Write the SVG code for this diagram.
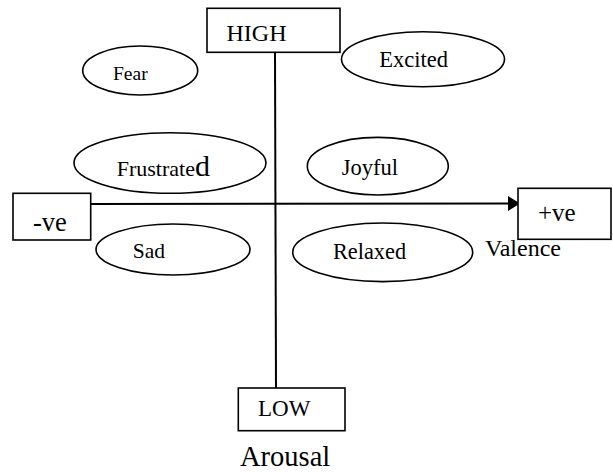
<svg xmlns="http://www.w3.org/2000/svg" width="613" height="472" viewBox="0 0 613 472">
<defs>
<style>
.box{fill:#fff;stroke:#000;stroke-width:1.6}
.ell{fill:#fff;stroke:#000;stroke-width:1.6}
.ln{stroke:#000;stroke-width:2;fill:none}
text{font-family:"Liberation Serif","Times New Roman",serif;fill:#000}
</style>
<marker id="arr" markerWidth="12" markerHeight="15" refX="12" refY="7.5" orient="auto" markerUnits="userSpaceOnUse">
<path d="M0,0 L12,7.5 L0,15 Z" fill="#000"/>
</marker>
</defs>
<rect width="613" height="472" fill="#fff"/>
<g id="connectors">
<line class="ln" x1="275" y1="52" x2="276" y2="388"/>
<line class="ln" x1="91" y1="204" x2="520" y2="203.5" marker-end="url(#arr)"/>
</g>
<g id="high"><rect class="box" x="207" y="8.3" width="133" height="44"/><text x="226.5" y="40.5" font-size="24">HIGH</text></g>
<g id="low"><rect class="box" x="238.3" y="388" width="106.7" height="42.7"/><text x="258" y="416" font-size="23">LOW</text></g>
<g id="neg"><rect class="box" x="13" y="193.3" width="77.7" height="46.7"/><text x="33" y="230.7" font-size="26.5">-ve</text></g>
<g id="pos"><rect class="box" x="518" y="188.3" width="93" height="51"/><text x="538" y="220.7" font-size="25">+ve</text></g>
<g id="fear"><ellipse class="ell" cx="140.2" cy="70.5" rx="57.5" ry="24.5"/><text x="113" y="80" font-size="19.5">Fear</text></g>
<g id="excited"><ellipse class="ell" cx="423" cy="59.2" rx="81.5" ry="27.5"/><text x="379.3" y="66.7" font-size="22.5">Excited</text></g>
<g id="frustrated"><ellipse class="ell" cx="170" cy="163" rx="96" ry="30.3"/><text x="116.7" y="176" font-size="22">Frustrate<tspan font-size="30">d</tspan></text></g>
<g id="joyful"><ellipse class="ell" cx="377.8" cy="166.2" rx="70.5" ry="28.8"/><text x="341.7" y="175" font-size="22.5">Joyful</text></g>
<g id="sad"><ellipse class="ell" cx="173" cy="249.5" rx="77" ry="25.5"/><text x="132.7" y="257.7" font-size="21.5">Sad</text></g>
<g id="relaxed"><ellipse class="ell" cx="382.7" cy="252.3" rx="90" ry="29.3"/><text x="333" y="259" font-size="22.3">Relaxed</text></g>
<text x="485" y="256" font-size="24">Valence</text>
<text x="240" y="465.7" font-size="28.5">Arousal</text>
</svg>
